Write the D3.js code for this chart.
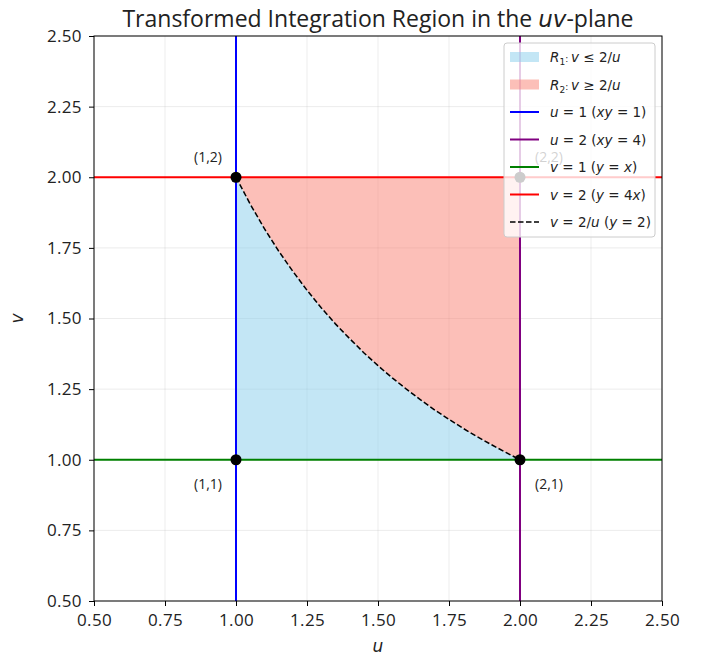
<!DOCTYPE html>
<html><head><meta charset="utf-8">
<script src="https://cdn.jsdelivr.net/npm/d3@7"></script>
<style>body{margin:0;background:#fff}svg{display:block}</style>
</head><body>
<script>
const xTicks = [0.5,0.75,1.0,1.25,1.5,1.75,2.0,2.25,2.5];
const yTicks = [0.5,0.75,1.0,1.25,1.5,1.75,2.0,2.25,2.5];
const curveU = [1.0,1.05,1.1,1.15,1.2,1.25,1.3,1.35,1.4,1.45,1.5,1.55,1.6,1.65,1.7,1.75,1.8,1.85,1.9,1.95,2.0];
const curveV = [2.0,1.905,1.818,1.739,1.667,1.6,1.538,1.481,1.429,1.379,1.333,1.290,1.25,1.212,1.176,1.143,1.111,1.081,1.053,1.026,1.0];
const pointLabels = ["(1,1)","(1,2)","(2,1)","(2,2)"];
const pointU = [1,1,2,2];
const pointV = [1,2,1,2];
const legendLabels = ["R1","R2","u1","u2","v1","v2","c"];

const W=702,H=658;
const m={l:94,r:662,t:36,b:601};
const svg=d3.select("body").append("svg").attr("width",W).attr("height",H);
const x=d3.scaleLinear().domain([0.5,2.5]).range([m.l,m.r]);
const y=d3.scaleLinear().domain([0.5,2.5]).range([m.b,m.t]);
const tickFont="'Open Sans', Roboto, sans-serif";

// grid
const g=svg.append("g");
g.selectAll(".gx").data(xTicks).enter().append("line")
 .attr("x1",d=>x(d)).attr("x2",d=>x(d)).attr("y1",m.t).attr("y2",m.b)
 .attr("stroke","#b0b0b0").attr("stroke-opacity",0.3).attr("stroke-width",0.8);
g.selectAll(".gy").data(yTicks).enter().append("line")
 .attr("y1",d=>y(d)).attr("y2",d=>y(d)).attr("x1",m.l).attr("x2",m.r)
 .attr("stroke","#b0b0b0").attr("stroke-opacity",0.3).attr("stroke-width",0.8);

// fills
const pts=curveU.map((u,i)=>[u,curveV[i]]);
const line=d3.line().x(d=>x(d[0])).y(d=>y(d[1]));
const r1=[[1,1]].concat(pts).concat([[2,1]]);
svg.append("path").attr("d",line(r1)+"Z").attr("fill","#87CEEB").attr("fill-opacity",0.5);
const r2=pts.concat([[2,2]]);
svg.append("path").attr("d",line(r2)+"Z").attr("fill","#FA8072").attr("fill-opacity",0.5);

// lines
svg.append("line").attr("x1",x(1)).attr("x2",x(1)).attr("y1",m.t).attr("y2",m.b).attr("stroke","#0000ff").attr("stroke-width",2);
svg.append("line").attr("x1",x(2)).attr("x2",x(2)).attr("y1",m.t).attr("y2",m.b).attr("stroke","#800080").attr("stroke-width",2);
svg.append("line").attr("y1",y(1)).attr("y2",y(1)).attr("x1",m.l).attr("x2",m.r).attr("stroke","#008000").attr("stroke-width",2);
svg.append("line").attr("y1",y(2)).attr("y2",y(2)).attr("x1",m.l).attr("x2",m.r).attr("stroke","#ff0000").attr("stroke-width",2);
svg.append("path").attr("d",line(pts)).attr("fill","none").attr("stroke","#000").attr("stroke-width",1.5).attr("stroke-dasharray","5.5,2.5");

// points
svg.selectAll(".pt").data(pointU).enter().append("circle")
 .attr("cx",d=>x(d)).attr("cy",(d,i)=>y(pointV[i])).attr("r",5.5).attr("fill","#000");
const lblDx=[-28,-28,29,29], lblDy=[29,-15,29,-15];
svg.selectAll(".pl").data(pointLabels).enter().append("text")
 .attr("x",(d,i)=>x(pointU[i])+lblDx[i]).attr("y",(d,i)=>y(pointV[i])+lblDy[i])
 .attr("text-anchor","middle").attr("font-family",tickFont).attr("font-size",14).attr("fill","#222")
 .text(d=>d);

// frame
svg.append("rect").attr("x",m.l).attr("y",m.t).attr("width",m.r-m.l).attr("height",m.b-m.t)
 .attr("fill","none").attr("stroke","#000").attr("stroke-width",1);

// axes
const xa=svg.append("g").attr("transform",`translate(0,${m.b})`)
 .call(d3.axisBottom(x).tickValues(xTicks).tickFormat(d3.format(".2f")).tickSize(5).tickSizeOuter(0));
const ya=svg.append("g").attr("transform",`translate(${m.l},0)`)
 .call(d3.axisLeft(y).tickValues(yTicks).tickFormat(d3.format(".2f")).tickSize(5).tickSizeOuter(0));
[xa,ya].forEach(a=>{a.select(".domain").remove();a.selectAll("text").attr("font-family",tickFont).attr("font-size",17).attr("fill","#222").attr("letter-spacing","0.3");a.selectAll("line").attr("stroke","#000");});
xa.selectAll("text").attr("dy","1.0em");
ya.selectAll("text").attr("dx","-0.25em");

svg.append("text").attr("x",(m.l+m.r)/2).attr("y",652).attr("text-anchor","middle")
 .attr("font-family","'DejaVu Sans', sans-serif").attr("font-style","italic").attr("font-size",17).attr("fill","#222").text("u");
svg.append("text").attr("transform",`translate(23,${(m.t+m.b)/2}) rotate(-90)`).attr("text-anchor","middle")
 .attr("font-family","'DejaVu Sans', sans-serif").attr("font-style","italic").attr("font-size",17).attr("fill","#222").text("v");

// title
const t=svg.append("text").attr("x",(m.l+m.r)/2).attr("y",27).attr("text-anchor","middle")
 .attr("font-family",tickFont).attr("font-size",23).attr("fill","#222");
t.append("tspan").text("Transformed Integration Region in the ");
t.append("tspan").attr("font-family","'DejaVu Sans', sans-serif").attr("font-style","italic").text("uv");
t.append("tspan").text("-plane");

// legend
const lg=svg.append("g");
lg.append("rect").attr("x",504).attr("y",43).attr("width",151).attr("height",194).attr("rx",3)
 .attr("fill","#fff").attr("fill-opacity",0.8).attr("stroke","#ccc").attr("stroke-width",1);
const rowY=d=>57+legendLabels.indexOf(d)*27.5;
const hx0=510,hx1=539,tx=550;
const lf="'DejaVu Sans', sans-serif";
function addText(row, parts){
  const tt=lg.append("text").attr("x",tx).attr("y",rowY(row)+5).attr("font-family",lf).attr("font-size",13.5).attr("fill","#222").attr("xml:space","preserve");
  parts.forEach(p=>{const s=tt.append("tspan").text(p[0]); if(p[1]) s.attr("font-style","italic"); if(p[2]) s.attr("font-size",9).attr("dy",p[2]);});
}
lg.append("rect").attr("x",hx0).attr("y",rowY("R1")-5).attr("width",hx1-hx0).attr("height",10).attr("fill","#87CEEB").attr("fill-opacity",0.5);
lg.append("rect").attr("x",hx0).attr("y",rowY("R2")-5).attr("width",hx1-hx0).attr("height",10).attr("fill","#FA8072").attr("fill-opacity",0.5);
const hl=[["u1","#0000ff",null],["u2","#800080",null],["v1","#008000",null],["v2","#ff0000",null],["c","#000","5.5,2.5"]];
hl.forEach(h=>{const l=lg.append("line").attr("x1",hx0).attr("x2",hx1).attr("y1",rowY(h[0])).attr("y2",rowY(h[0])).attr("stroke",h[1]).attr("stroke-width",h[2]?1.5:2); if(h[2]) l.attr("stroke-dasharray",h[2]);});
addText("R1",[["R",1],["1",0,3],[": ",0,-3],["v",1],[" ≤ 2/",0],["u",1]]);
addText("R2",[["R",1],["2",0,3],[": ",0,-3],["v",1],[" ≥ 2/",0],["u",1]]);
addText("u1",[["u",1],[" = 1 (",0],["xy",1],[" = 1)",0]]);
addText("u2",[["u",1],[" = 2 (",0],["xy",1],[" = 4)",0]]);
addText("v1",[["v",1],[" = 1 (",0],["y",1],[" = ",0],["x",1],[")",0]]);
addText("v2",[["v",1],[" = 2 (",0],["y",1],[" = 4",0],["x",1],[")",0]]);
addText("c",[["v",1],[" = 2/",0],["u",1],[" (",0],["y",1],[" = 2)",0]]);
</script>
</body></html>
